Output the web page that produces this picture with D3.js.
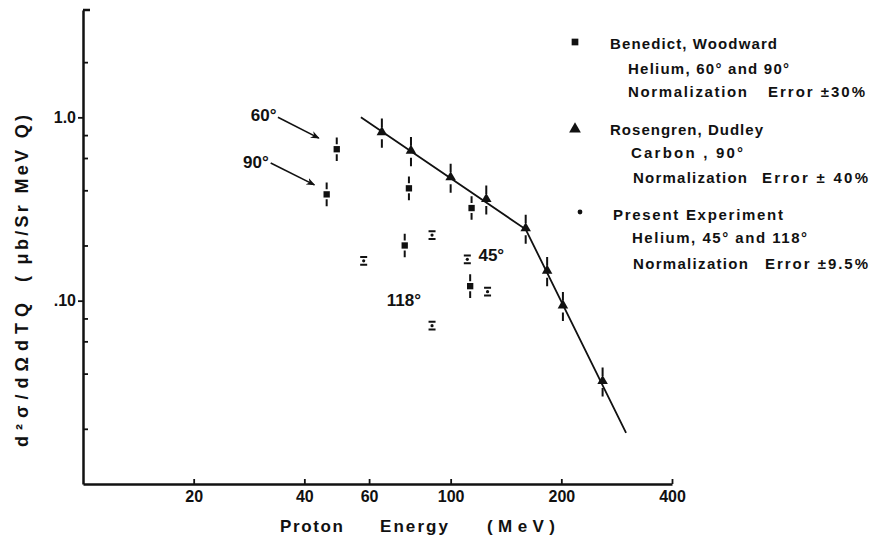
<!DOCTYPE html>
<html>
<head>
<meta charset="utf-8">
<script src="https://cdn.jsdelivr.net/npm/d3@7"></script>
<style>
body{margin:0;background:#fff;}
svg text{font-family:"Liberation Sans",Arial,sans-serif;font-weight:bold;fill:#111;}
</style>
</head>
<body>
<svg id="chart" width="873" height="540"></svg>
<script>
// Benedict, Woodward  (helium, 60 and 90 deg)
var bwEnergy=[49,77,114,46,75,113];
var bwValue=[0.67,0.41,0.32,0.38,0.20,0.12];
var bwErr=0.16;
// Rosengren, Dudley  (carbon, 90 deg)
var rdEnergy=[65,78,100,125,160,183,202,259];
var rdValue=[0.82,0.65,0.465,0.354,0.245,0.144,0.093,0.036];
var rdErr=0.2;
// present experiment  (helium, 45 and 118 deg)
var peEnergy=[58,89,111,126,89];
var peValue=[0.165,0.228,0.168,0.112,0.073];
var peErr=0.05;
// hand drawn curve through the carbon points
var curveEnergy=[57,160,300];
var curveValue=[1.0,0.245,0.019];

var xTicks=[20,40,60,100,200,400];
var yMajor=[1.0,0.1];
var yMajorLabels=["1.0",".10"];
var yMinor=[0.02,0.04,0.06,0.08,0.2,0.4,0.6,0.8,2];

var svg=d3.select("#chart");
var x=d3.scaleLog().domain([10,400]).range([83,672]);
var y=d3.scaleLog().domain([0.01,3.85]).range([484,10]);

// axes
var xAxis=d3.axisBottom(x).tickValues(xTicks).tickFormat(d3.format("d")).tickSizeInner(-5).tickSizeOuter(0).tickPadding(7);
var gx=svg.append("g").attr("transform","translate(0,"+y(0.01)+")").call(xAxis);
gx.attr("font-size",null).attr("font-family",null);
gx.select(".domain").attr("stroke","#111").attr("stroke-width",2.5);
gx.selectAll(".tick line").attr("stroke","#111").attr("stroke-width",1.8);
gx.selectAll(".tick text").style("font-size","16px").attr("fill","#111");

var yAxis=d3.axisLeft(y).tickValues(yMajor).tickFormat(function(d,i){return yMajorLabels[i];}).tickSizeInner(5).tickSizeOuter(0).tickPadding(2);
var gy=svg.append("g").attr("transform","translate("+x(10)+",0)").call(yAxis);
gy.attr("font-size",null).attr("font-family",null);
gy.select(".domain").attr("stroke","#111").attr("stroke-width",2.5);
gy.selectAll(".tick line").attr("stroke","#111").attr("stroke-width",1.8);
gy.selectAll(".tick text").style("font-size","16px").attr("fill","#111");

var yAxisMinor=d3.axisRight(y).tickValues(yMinor).tickFormat("").tickSizeInner(5).tickSizeOuter(0);
var gm=svg.append("g").attr("transform","translate("+x(10)+",0)").call(yAxisMinor);
gm.select(".domain").remove();
gm.selectAll(".tick line").attr("stroke","#111").attr("stroke-width",1.8);

// little hook at top of the y axis
svg.append("path").attr("d","M"+x(10)+","+y(3.85)+"h7").attr("stroke","#111").attr("stroke-width",2.5).attr("fill","none");

// axis titles
svg.append("text").attr("transform","translate(28,447) rotate(-90)").style("font-size","18px")
  .attr("textLength",144).attr("lengthAdjust","spacing").text("d\u00b2\u03c3/d\u03a9dTQ");
svg.append("text").attr("transform","translate(28,282) rotate(-90)").style("font-size","18px")
  .attr("textLength",167).attr("lengthAdjust","spacing").text("( \u03bcb/Sr  MeV Q)");

var xt=[["Proton",280,63],["Energy",380,68],["(MeV)",487,68]];
svg.selectAll(".xt").data(xt).enter().append("text").attr("class","xt")
  .attr("x",function(d){return d[1];}).attr("y",532).style("font-size","17px")
  .attr("textLength",function(d){return d[2];}).attr("lengthAdjust","spacing")
  .text(function(d){return d[0];});

// curve
var line=d3.line().x(function(d){return x(d[0]);}).y(function(d){return y(d[1]);});
svg.append("path").datum(d3.zip(curveEnergy,curveValue)).attr("d",line)
  .attr("fill","none").attr("stroke","#111").attr("stroke-width",1.8);

// broken error bars (gap around the marker)
function errBars(ex,vals,err,gap){
  var pts=d3.zip(ex,vals);
  svg.append("g").selectAll("path").data(pts).enter().append("path")
    .attr("d",function(d){
      var cx=x(d[0]),cy=y(d[1]);
      return "M"+cx+","+y(d[1]*(1+err))+"V"+(cy-gap)+"M"+cx+","+(cy+gap)+"V"+y(d[1]/(1+err));
    })
    .attr("stroke","#111").attr("stroke-width",2).attr("fill","none");
}
errBars(bwEnergy,bwValue,bwErr,5);
errBars(rdEnergy,rdValue,rdErr,6);

var sq=d3.symbol().type(d3.symbolSquare).size(40);
svg.append("g").selectAll("path").data(d3.zip(bwEnergy,bwValue)).enter().append("path")
  .attr("d",sq).attr("transform",function(d){return "translate("+x(d[0])+","+y(d[1])+")";}).attr("fill","#111");

var tri=d3.symbol().type(d3.symbolTriangle).size(48);
svg.append("g").selectAll("path").data(d3.zip(rdEnergy,rdValue)).enter().append("path")
  .attr("d",tri).attr("transform",function(d){return "translate("+x(d[0])+","+(y(d[1])-1)+")";}).attr("fill","#111");

// present experiment: dot with short capped bar
var pe=svg.append("g").selectAll("g").data(d3.zip(peEnergy,peValue)).enter().append("g");
pe.append("path").attr("d",function(d){
    var cx=x(d[0]),t=y(d[1]*(1+peErr)),b=y(d[1]/(1+peErr));
    return "M"+(cx-3.5)+","+t+"h7M"+(cx-3.5)+","+b+"h7";
  }).attr("stroke","#111").attr("stroke-width",2);
pe.append("circle").attr("cx",function(d){return x(d[0]);}).attr("cy",function(d){return y(d[1]);})
  .attr("r",1.6).attr("fill","#111");

// angle annotations with arrows
svg.append("defs").append("marker").attr("id","ah").attr("viewBox","0 0 10 10").attr("refX",9).attr("refY",5)
  .attr("markerWidth",9).attr("markerHeight",9).attr("orient","auto").attr("markerUnits","userSpaceOnUse")
  .append("path").attr("d","M0,1L10,5L0,9L3,5Z").attr("fill","#111");
var arrows=[[[33.9,1.0],[43.8,0.77]],[[32.4,0.563],[42.6,0.428]]];
svg.selectAll(".arr").data(arrows).enter().append("path").attr("class","arr")
  .attr("d",function(d){return "M"+x(d[0][0])+","+y(d[0][1])+"L"+x(d[1][0])+","+y(d[1][1]);})
  .attr("stroke","#111").attr("stroke-width",1.6).attr("marker-end","url(#ah)");

var notes=[["60\u00b0",33.6,0.95,"end"],["90\u00b0",32.0,0.53,"end"],["45\u00b0",119,0.165,"start"],["118\u00b0",67,0.093,"start"]];
svg.selectAll(".note").data(notes).enter().append("text").attr("class","note")
  .attr("x",function(d){return x(d[1]);}).attr("y",function(d){return y(d[2]);})
  .attr("text-anchor",function(d){return d[3];}).style("font-size","17px")
  .text(function(d){return d[0];});

// legend
var legLines=[
  ["Benedict, Woodward",610,49,167],
  ["Helium, 60\u00b0 and 90\u00b0",628,74,161],
  ["Normalization",628,97,119],["Error \u00b130%",768,97,97],
  ["Rosengren, Dudley",610,135,153],
  ["Carbon , 90\u00b0",631,158,112],
  ["Normalization",633,183,114],["Error \u00b1 40%",762,183,106],
  ["Present Experiment",613,220,170],
  ["Helium, 45\u00b0 and 118\u00b0",632,243,175],
  ["Normalization",633,269,115],["Error \u00b19.5%",765,269,103]
];
svg.selectAll(".leg").data(legLines).enter().append("text").attr("class","leg")
  .attr("x",function(d){return d[1];}).attr("y",function(d){return d[2];})
  .style("font-size","15px").attr("textLength",function(d){return d[3];}).attr("lengthAdjust","spacing")
  .text(function(d){return d[0];});
svg.append("path").attr("d",d3.symbol().type(d3.symbolSquare).size(45)).attr("transform","translate(575,42)").attr("fill","#111");
svg.append("path").attr("d",d3.symbol().type(d3.symbolTriangle).size(60)).attr("transform","translate(575,129)").attr("fill","#111");
svg.append("circle").attr("cx",580).attr("cy",212).attr("r",2.4).attr("fill","#111");
</script>
</body>
</html>
